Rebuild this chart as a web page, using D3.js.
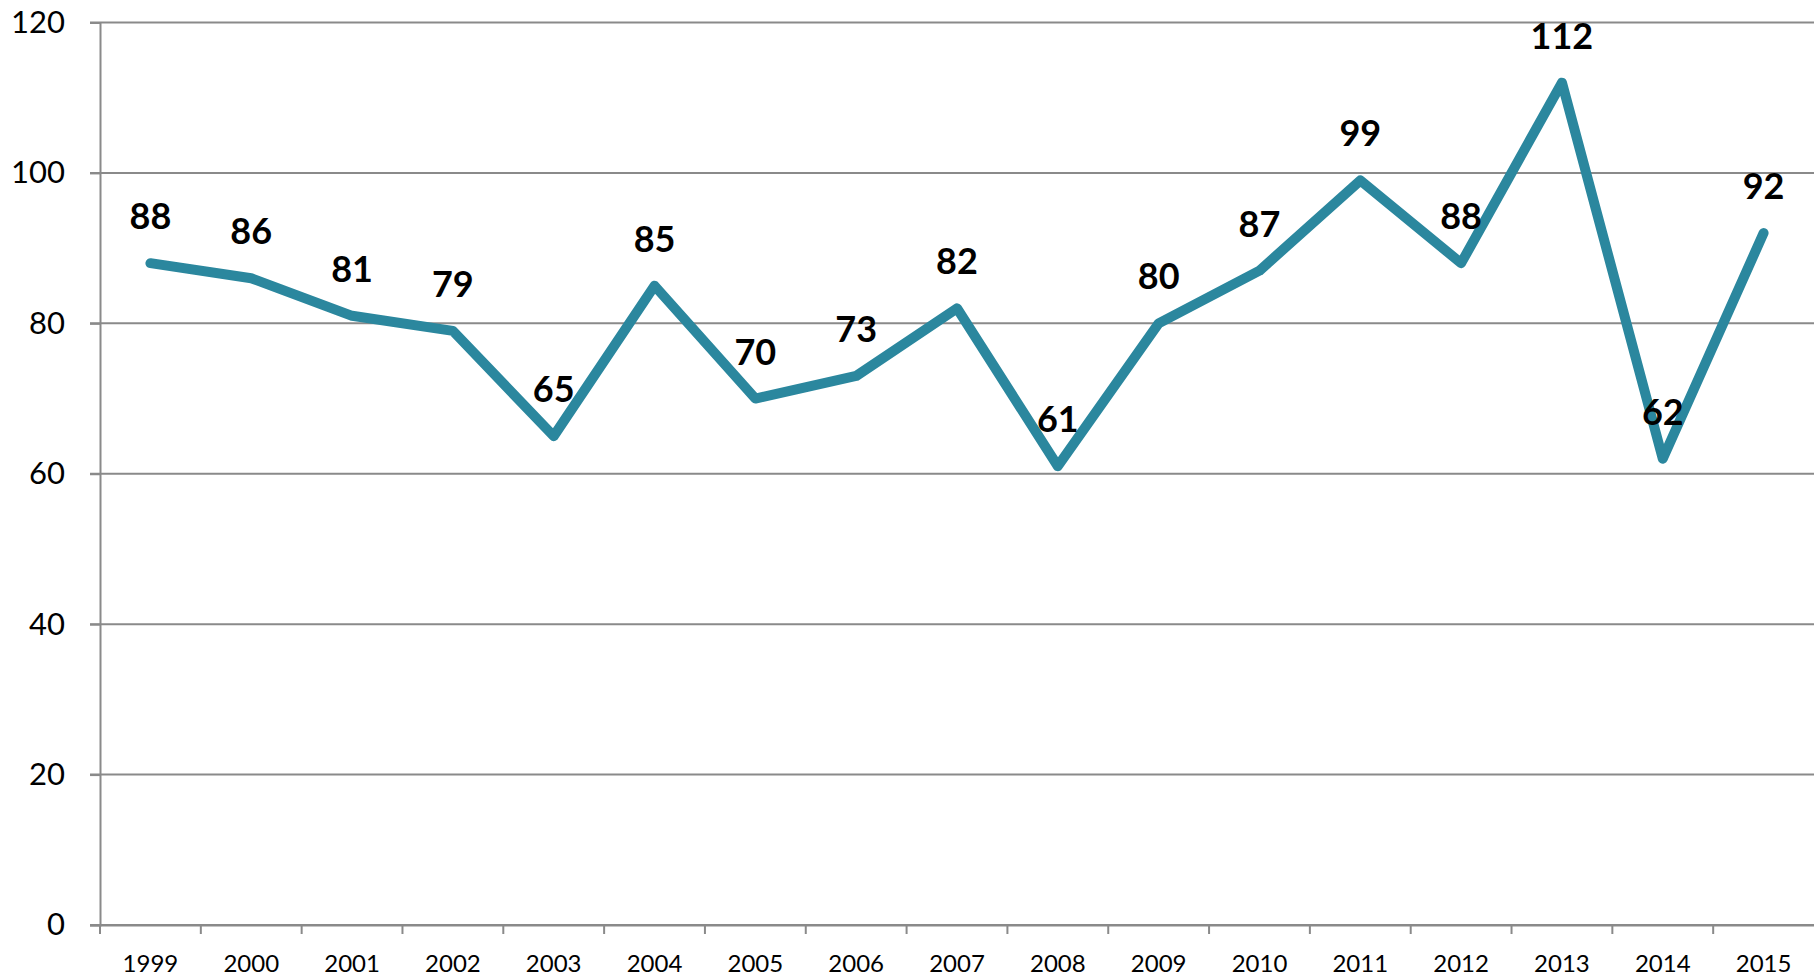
<!DOCTYPE html>
<html><head><meta charset="utf-8">
<script src="https://cdn.jsdelivr.net/npm/d3@7"></script>
<style>body{margin:0;background:#fff}svg{display:block}</style>
</head><body>
<script>
const years = ["1999","2000","2001","2002","2003","2004","2005","2006","2007","2008","2009","2010","2011","2012","2013","2014","2015"];
const values = [88,86,81,79,65,85,70,73,82,61,80,87,99,88,112,62,92];
const yTicks = [0,20,40,60,80,100,120];

const W = 1814, H = 978;
const svg = d3.select("body").append("svg").attr("width", W).attr("height", H);
const x = d3.scaleBand().domain(years).range([100, 1814]);
const y = d3.scaleLinear().domain([0,120]).range([925, 22.5]);
const font = "Lato, 'Open Sans', sans-serif";
const grid = "#8a8a8a";

// gridlines
svg.append("g").selectAll("line").data(yTicks).join("line")
  .attr("x1", 90).attr("x2", 1814)
  .attr("y1", d => y(d)).attr("y2", d => y(d))
  .attr("stroke", grid).attr("stroke-width", 2);

// y axis
const ya = svg.append("g").attr("transform", "translate(100,0)")
  .call(d3.axisLeft(y).tickValues(yTicks).tickSize(10).tickPadding(25));
ya.select(".domain").attr("stroke", grid).attr("stroke-width", 2);
ya.selectAll(".tick line").attr("stroke", grid).attr("stroke-width", 2);
ya.selectAll("text").attr("font-family", font).attr("font-size", 31).attr("fill", "#000");

// x axis
const xa = svg.append("g").attr("transform", "translate(0,925)")
  .call(d3.axisBottom(x).tickSize(0).tickPadding(30));
xa.select(".domain").attr("stroke", grid).attr("stroke-width", 2);
xa.selectAll("text").attr("font-family", font).attr("font-size", 24).attr("fill", "#000");
// tick marks at band boundaries
svg.append("g").selectAll("line").data(years).join("line")
  .attr("x1", d => x(d)).attr("x2", d => x(d))
  .attr("y1", 925).attr("y2", 934)
  .attr("stroke", grid).attr("stroke-width", 2);

const cx = d => x(d) + x.bandwidth()/2;
const line = d3.line().x((d,i) => cx(years[i])).y(d => y(d));
svg.append("path").datum(values).attr("d", line)
  .attr("fill", "none").attr("stroke", "#2b879e").attr("stroke-width", 10)
  .attr("stroke-linejoin", "round").attr("stroke-linecap", "round");

svg.append("g").selectAll("text").data(values).join("text")
  .attr("x", (d,i) => cx(years[i])).attr("y", d => y(d) - 48)
  .attr("text-anchor", "middle").attr("dominant-baseline", "central")
  .attr("font-family", font).attr("font-weight", "bold").attr("font-size", 36)
  .attr("fill", "#000").text(d => d);
</script>
</body></html>
